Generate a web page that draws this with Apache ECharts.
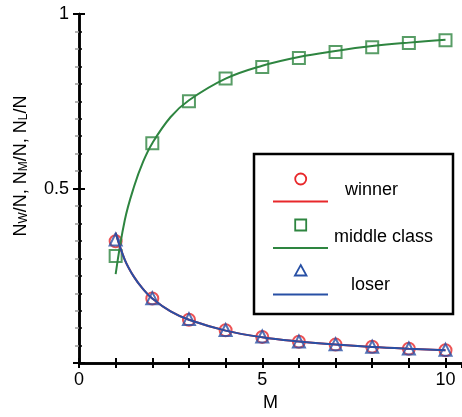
<!DOCTYPE html>
<html>
<head>
<meta charset="utf-8">
<script src="https://cdn.jsdelivr.net/npm/echarts@6/dist/echarts.min.js"></script>
<style>
  html, body { margin: 0; padding: 0; background: #fff; }
  #chart { width: 462px; height: 417px; }
</style>
</head>
<body>
<div id="chart"></div>
<script>
  // simulation points, M = 1..10
  var mValues = [1, 2, 3, 4, 5, 6, 7, 8, 9, 10];
  var winnerPts = [0.349, 0.185, 0.124, 0.094, 0.075, 0.061, 0.053, 0.047, 0.041, 0.037];
  var middlePts = [0.307, 0.630, 0.750, 0.815, 0.848, 0.874, 0.891, 0.905, 0.917, 0.925];
  var loserPts = [0.354, 0.186, 0.126, 0.095, 0.076, 0.062, 0.054, 0.047, 0.042, 0.038];

  // theory curves
  var curveM = [1, 1.25, 1.5, 1.75, 2, 2.5, 3, 4, 5, 6, 7, 8, 9, 10];
  var winnerCurve = [0.373, 0.296, 0.247, 0.212, 0.185, 0.148, 0.124, 0.093, 0.074, 0.062, 0.053, 0.046, 0.041, 0.037];
  var middleCurve = [0.255, 0.410, 0.505, 0.577, 0.630, 0.705, 0.753, 0.815, 0.852, 0.877, 0.894, 0.908, 0.918, 0.926];
  var loserCurve = [0.373, 0.296, 0.247, 0.212, 0.185, 0.148, 0.124, 0.093, 0.074, 0.062, 0.053, 0.046, 0.041, 0.037];

  var xTickLabels = ['0', '5', '10'];
  var yTickLabels = ['0.5', '1'];

  var RED = '#e8282b', GREEN = '#2e8540', BLUE = '#2850a5';
  var FONT = 'Liberation Sans';

  function pairs(xs, ys) {
    return xs.map(function (x, i) { return [x, ys[i]]; });
  }

  function curve(name, xs, ys, color) {
    return {
      name: name, type: 'line', data: pairs(xs, ys), smooth: 0.4,
      showSymbol: false, lineStyle: { color: color, width: 2 }, silent: true
    };
  }

  function points(name, ys, symbol, size, color) {
    return {
      name: name, type: 'scatter', data: pairs(mValues, ys),
      symbol: symbol, symbolSize: size,
      itemStyle: { color: 'rgba(0,0,0,0)', borderColor: color, borderWidth: 2 }
    };
  }

  var axisText = { color: '#000', fontFamily: FONT, fontSize: 18 };
  var spine = { show: true, lineStyle: { color: '#000', width: 2.5 } };

  var myChart = echarts.init(document.getElementById('chart'));
  myChart.setOption({
    animation: false,
    grid: { left: 79, top: 14, right: -1, bottom: 47, containLabel: false },
    xAxis: [{
      type: 'value', min: 0, max: 10.45, interval: 1, position: 'bottom',
      name: 'M', nameLocation: 'middle', nameGap: 24, nameTextStyle: axisText,
      axisLine: spine,
      axisTick: { inside: true, length: 5, lineStyle: { color: '#000', width: 2 } },
      axisLabel: Object.assign({
        margin: 8, showMaxLabel: false,
        formatter: function (v) { return xTickLabels.indexOf(String(v)) >= 0 ? String(v) : ''; }
      }, axisText),
      splitLine: { show: false }
    }, {
      type: 'value', min: 0, max: 10.45, interval: 1, position: 'top',
      axisLine: spine,
      axisTick: { inside: true, length: 5, lineStyle: { color: '#000', width: 2 } },
      axisLabel: { show: false }, splitLine: { show: false }
    }],
    yAxis: [{
      type: 'value', min: 0, max: 1, interval: 0.5, position: 'left',
      axisLine: spine,
      axisTick: { inside: true, length: 6, lineStyle: { color: '#000', width: 2 } },
      minorTick: { show: true, splitNumber: 10, length: 3, lineStyle: { color: '#000', width: 1.5 } },
      axisLabel: Object.assign({
        margin: 10,
        formatter: function (v) { return yTickLabels.indexOf(String(v)) >= 0 ? String(v) : ''; }
      }, axisText),
      splitLine: { show: false }
    }, {
      type: 'value', min: 0, max: 1, interval: 0.5, position: 'right',
      axisLine: spine,
      axisTick: { inside: true, length: 6, lineStyle: { color: '#000', width: 2 } },
      minorTick: { show: true, splitNumber: 10, length: 4, lineStyle: { color: '#999', width: 1.5 } },
      axisLabel: { show: false }, splitLine: { show: false }
    }],
    series: [
      curve('middle class line', curveM, middleCurve, GREEN),
      points('middle class', middlePts, 'rect', 12, GREEN),
      points('winner', winnerPts, 'circle', 12, RED),
      curve('winner line', curveM, winnerCurve, RED),
      curve('loser line', curveM, loserCurve, BLUE),
      points('loser', loserPts, 'triangle', 12, BLUE)
    ],
    graphic: [
      {
        type: 'text', x: 21, y: 166, rotation: Math.PI / 2,
        style: {
          text: '{n|N}{s|W}{n|/N, N}{s|M}{n|/N, N}{s|L}{n|/N}',
          align: 'center', verticalAlign: 'middle', fill: '#000',
          rich: {
            n: { fontFamily: FONT, fontSize: 18, lineHeight: 18, padding: [0, 0, 7, 0], verticalAlign: 'top' },
            s: { fontFamily: FONT, fontSize: 12, lineHeight: 12, verticalAlign: 'bottom' }
          }
        }
      },
      // legend box
      { type: 'rect', shape: { x: 254, y: 154, width: 199, height: 160 },
        style: { fill: '#fff', stroke: '#000', lineWidth: 2.5 }, z: 10 },
      { type: 'circle', shape: { cx: 300.7, cy: 179, r: 5.5 },
        style: { fill: 'none', stroke: RED, lineWidth: 1.8 }, z: 11 },
      { type: 'line', shape: { x1: 273, y1: 201.5, x2: 328, y2: 201.5 },
        style: { stroke: RED, lineWidth: 2 }, z: 11 },
      { type: 'text', x: 345, y: 190, z: 11,
        style: { text: 'winner', font: '18px ' + FONT, fill: '#000', verticalAlign: 'middle' } },
      { type: 'rect', shape: { x: 295.2, y: 219.5, width: 11, height: 11 },
        style: { fill: 'none', stroke: GREEN, lineWidth: 1.8 }, z: 11 },
      { type: 'line', shape: { x1: 273, y1: 248, x2: 328, y2: 248 },
        style: { stroke: GREEN, lineWidth: 2 }, z: 11 },
      { type: 'text', x: 334, y: 237, z: 11,
        style: { text: 'middle class', font: '18px ' + FONT, fill: '#000', verticalAlign: 'middle' } },
      { type: 'polygon', shape: { points: [[300.7, 265], [306.5, 275.5], [294.9, 275.5]] },
        style: { fill: 'none', stroke: BLUE, lineWidth: 1.8 }, z: 11 },
      { type: 'line', shape: { x1: 273, y1: 294.5, x2: 328, y2: 294.5 },
        style: { stroke: BLUE, lineWidth: 2 }, z: 11 },
      { type: 'text', x: 351, y: 285, z: 11,
        style: { text: 'loser', font: '18px ' + FONT, fill: '#000', verticalAlign: 'middle' } }
    ]
  });
</script>
</body>
</html>
